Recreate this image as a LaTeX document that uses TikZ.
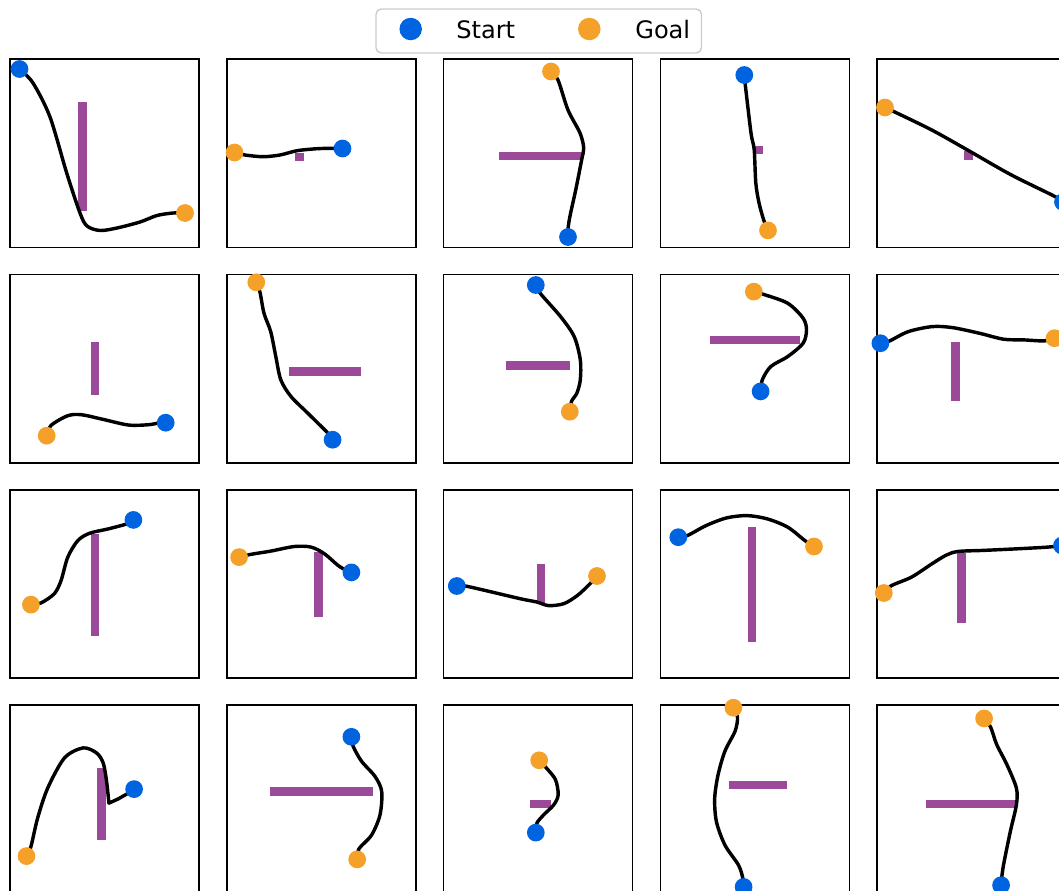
\documentclass[tikz,border=0pt]{standalone}
\usepackage{fontspec}
\setmainfont{DejaVu Sans}
\usetikzlibrary{backgrounds}
\definecolor{startblue}{HTML}{0064E0}
\definecolor{goalorange}{HTML}{F5A028}
\definecolor{obstacle}{HTML}{9A4A98}
\definecolor{legendgray}{HTML}{CCCCCC}
\tikzset{
  panel/.style={draw=black, line width=1pt},
  wall/.style={draw=obstacle, line width=0.17cm},
  route/.style={draw=black, line width=1.95pt, line cap=round, line join=round},
  startdot/.style={circle, fill=startblue, minimum size=0.355cm, inner sep=0pt},
  goaldot/.style={circle, fill=goalorange, minimum size=0.355cm, inner sep=0pt},
  legenddot/.style={circle, minimum size=0.45cm, inner sep=0pt},
  legendbox/.style={draw=legendgray, fill=white, rounded corners=3pt, line width=0.8pt, minimum width=6.51cm, minimum height=0.88cm},
  legendtext/.style={anchor=base west, inner sep=0pt, font=\fontsize{13.7}{16}\selectfont}
}

\begin{document}
\begin{tikzpicture}[x=0.02cm, y=-0.02cm]
  \useasboundingbox (0,0) rectangle (1059,890);

  \node[legendbox] (legend) at (538.75,31) {};
  \node[legenddot, fill=startblue] (legstart) at (410.7,29) {};
  \node[legendtext] (startlabel) at (456,38.3) {Start};
  \node[legenddot, fill=goalorange] (leggoal) at (589.3,29) {};
  \node[legendtext] (goallabel) at (635,38.3) {Goal};

  % row 1
  \node[startdot] (start1) at (19.5,69) {};
  \node[goaldot] (goal1) at (185,213) {};
  \node[startdot] (start2) at (342.5,148.5) {};
  \node[goaldot] (goal2) at (234.5,152.5) {};
  \node[startdot] (start3) at (568,237) {};
  \node[goaldot] (goal3) at (551,71.5) {};
  \node[startdot] (start4) at (744.3,75) {};
  \node[goaldot] (goal4) at (768,230.4) {};
  \node[startdot] (start5) at (1063,202) {};
  \node[goaldot] (goal5) at (885,107.5) {};
  % row 2
  \node[startdot] (start6) at (165.7,422.7) {};
  \node[goaldot] (goal6) at (46.7,435.7) {};
  \node[startdot] (start7) at (332.6,439.7) {};
  \node[goaldot] (goal7) at (256.3,282.3) {};
  \node[startdot] (start8) at (535.8,285) {};
  \node[goaldot] (goal8) at (569.8,411.7) {};
  \node[startdot] (start9) at (760.6,391.4) {};
  \node[goaldot] (goal9) at (753.8,291.6) {};
  \node[startdot] (start10) at (880.4,343.2) {};
  \node[goaldot] (goal10) at (1054.5,338.2) {};
  % row 3
  \node[startdot] (start11) at (133.4,519.9) {};
  \node[goaldot] (goal11) at (30.9,604.6) {};
  \node[startdot] (start12) at (351.4,572.4) {};
  \node[goaldot] (goal12) at (239.1,557.1) {};
  \node[startdot] (start13) at (456.8,586) {};
  \node[goaldot] (goal13) at (597,576) {};
  \node[startdot] (start14) at (678.3,537.2) {};
  \node[goaldot] (goal14) at (814,546.5) {};
  \node[startdot] (start15) at (1062,545.5) {};
  \node[goaldot] (goal15) at (883.8,593) {};
  % row 4
  \node[startdot] (start16) at (134.1,789.1) {};
  \node[goaldot] (goal16) at (26.5,856.1) {};
  \node[startdot] (start17) at (351.4,736.8) {};
  \node[goaldot] (goal17) at (357.2,859.4) {};
  \node[startdot] (start18) at (535.8,832.6) {};
  \node[goaldot] (goal18) at (539.2,760.3) {};
  \node[startdot] (start19) at (743.6,886.9) {};
  \node[goaldot] (goal19) at (733.4,707.7) {};
  \node[startdot] (start20) at (1001.1,885.2) {};
  \node[goaldot] (goal20) at (984.1,718.4) {};

  \begin{scope}[on background layer]
    \foreach \c in {0,...,4}
      \foreach \r in {0,...,3}
        \draw[panel] ({10+216.8*\c},{59+215.4*\r}) rectangle ++(189,188.5);

    \draw[wall] (82.5,101.7) -- (82.5,211);
    \draw[wall] (299.5,152.7) -- (299.5,161);
    \draw[wall] (499.4,156.2) -- (583,156.2);
    \draw[wall] (758.5,145.8) -- (758.5,154.2);
    \draw[wall] (968.5,151.3) -- (968.5,160.3);
    \draw[wall] (95.2,341.9) -- (95.2,394.8);
    \draw[wall] (288.5,371.5) -- (360.5,371.5);
    \draw[wall] (505.5,365.7) -- (570.1,365.7);
    \draw[wall] (710.3,340) -- (799.7,340);
    \draw[wall] (955.3,341.9) -- (955.3,401.4);
    \draw[wall] (95.2,533.9) -- (95.2,635.8);
    \draw[wall] (318.3,551.5) -- (318.3,616.9);
    \draw[wall] (541,564.4) -- (541,604.3);
    \draw[wall] (752,526.5) -- (752,642.1);
    \draw[wall] (961.5,553.1) -- (961.5,622.9);
    \draw[wall] (101.6,768) -- (101.6,840);
    \draw[wall] (270,791.5) -- (372.9,791.5);
    \draw[wall] (530,804) -- (551.4,804);
    \draw[wall] (729,785) -- (787.1,785);
    \draw[wall] (926,804) -- (1015,804);

    \draw[route] plot[smooth] coordinates {(start1.center) (33,83) (50,117) (66.7,173) (80,213) (87,226) (100,230.5) (117,228) (140,222) (157,215.5) (173,213) (goal1.center)};
    \draw[route] plot[smooth] coordinates {(goal2.center) (245,155) (263,156.7) (280,155) (297,150.7) (317,148.7) (333,148.3) (start2.center)};
    \draw[route] plot[smooth] coordinates {(goal3.center) (558,80) (568,110) (580,133) (583.7,148) (581.7,159.6) (575.8,189.5) (570,216) (568,229) (start3.center)};
    \draw[route] plot[smooth] coordinates {(start4.center) (745.1,83.3) (751,133) (754.2,149.7) (755.8,183) (759,202.8) (763.7,220) (goal4.center)};
    \draw[route] plot[smooth] coordinates {(goal5.center) (893.7,111.5) (931.4,129.8) (967,149.7) (1010.7,174.6) (1054.3,196.2) (start5.center)};
    \draw[route] plot[smooth] coordinates {(goal6.center) (51,425.4) (67.8,415.7) (81.3,414.7) (101.5,419) (128.4,425) (148.6,424.7) (158.6,423) (start6.center)};
    \draw[route] plot[smooth] coordinates {(goal7.center) (260,292.3) (264,313.3) (270.7,331.6) (275.8,356.5) (280.8,379.8) (290.9,396.4) (307.7,413.1) (327.2,432.4) (start7.center)};
    \draw[route] plot[smooth] coordinates {(start8.center) (540.2,293.3) (560.6,316.6) (574.2,336.6) (580.3,359.8) (580.3,379.8) (576.9,393.1) (571.5,401.4) (goal8.center)};
    \draw[route] plot[smooth] coordinates {(goal9.center) (764,294.5) (787.8,303.3) (803.1,318.2) (806.5,329.9) (803.1,343.2) (787.8,356.5) (770.8,366.5) (762.3,379.8) (start9.center)};
    \draw[route] plot[smooth] coordinates {(start10.center) (889.6,340.9) (908.3,331.6) (932.1,326.6) (952.5,327.6) (979.7,333.3) (1003.5,339.2) (1023.9,339.9) (1044.3,340.9) (goal10.center)};
    \draw[route] plot[smooth] coordinates {(goal11.center) (40.9,603) (54.4,593.6) (61.1,580.4) (67.8,557.1) (77.9,540.5) (89.7,533.2) (108.2,528.9) (126.7,523.9) (start11.center)};
    \draw[route] plot[smooth] coordinates {(goal12.center) (250.5,554.4) (270.7,551.1) (294.3,546.5) (311.1,547.1) (324.5,553.8) (338,565.4) (346.4,570.4) (start12.center)};
    \draw[route] plot[smooth] coordinates {(start13.center) (466.9,586.3) (519.8,598.6) (536.8,602) (548.7,605.6) (564,603.6) (577.6,595.3) (589.5,584.3) (goal13.center)};
    \draw[route] plot[smooth] coordinates {(start14.center) (687.5,535.5) (706.2,525.5) (726.6,517.9) (747,515.6) (767.4,518.9) (787.8,527.2) (804.8,540.5) (goal14.center)};
    \draw[route] plot[smooth] coordinates {(goal15.center) (891.3,585.7) (911.7,577) (932.1,563.7) (945.7,555.4) (957.6,551.5) (983.1,550.4) (1017.1,548.8) (1047.7,547.1) (start15.center)};
    \draw[route] plot[smooth] coordinates {(goal16.center) (30.9,846.7) (37.6,818.2) (47.7,788.1) (64.5,757.9) (83,747.9) (96.5,752.9) (103.2,763) (106.6,781.4) (108.9,803.2)} -- (118.4,798.8) -- (128.4,793.1) -- (start16.center);
    \draw[route] plot[smooth] coordinates {(start17.center) (353.1,746.2) (361.5,761.2) (375,776.4) (381.7,791.4) (380,814.9) (371.6,835) (358.8,849) (goal17.center)};
    \draw[route] plot[smooth] coordinates {(goal18.center) (547,768.7) (555.5,779.7) (558.2,794.8) (553.8,804.8) (543.6,814.9) (536.8,823.3) (start18.center)};
    \draw[route] plot[smooth] coordinates {(goal19.center) (737.5,717.1) (735.1,731.1) (724.9,751.2) (718.1,774.7) (714.7,798.1) (716.4,821.6) (724.9,845) (738.5,865.1) (742.9,878.5) (start19.center)};
    \draw[route] plot[smooth] coordinates {(goal20.center) (990.6,727.1) (996.7,744.5) (1006.9,764.6) (1016.4,788.1) (1016.4,804.8) (1010.3,831.6) (1003.5,865.1) (1001.4,880.2) (start20.center)};
  \end{scope}
\end{tikzpicture}
\end{document}
